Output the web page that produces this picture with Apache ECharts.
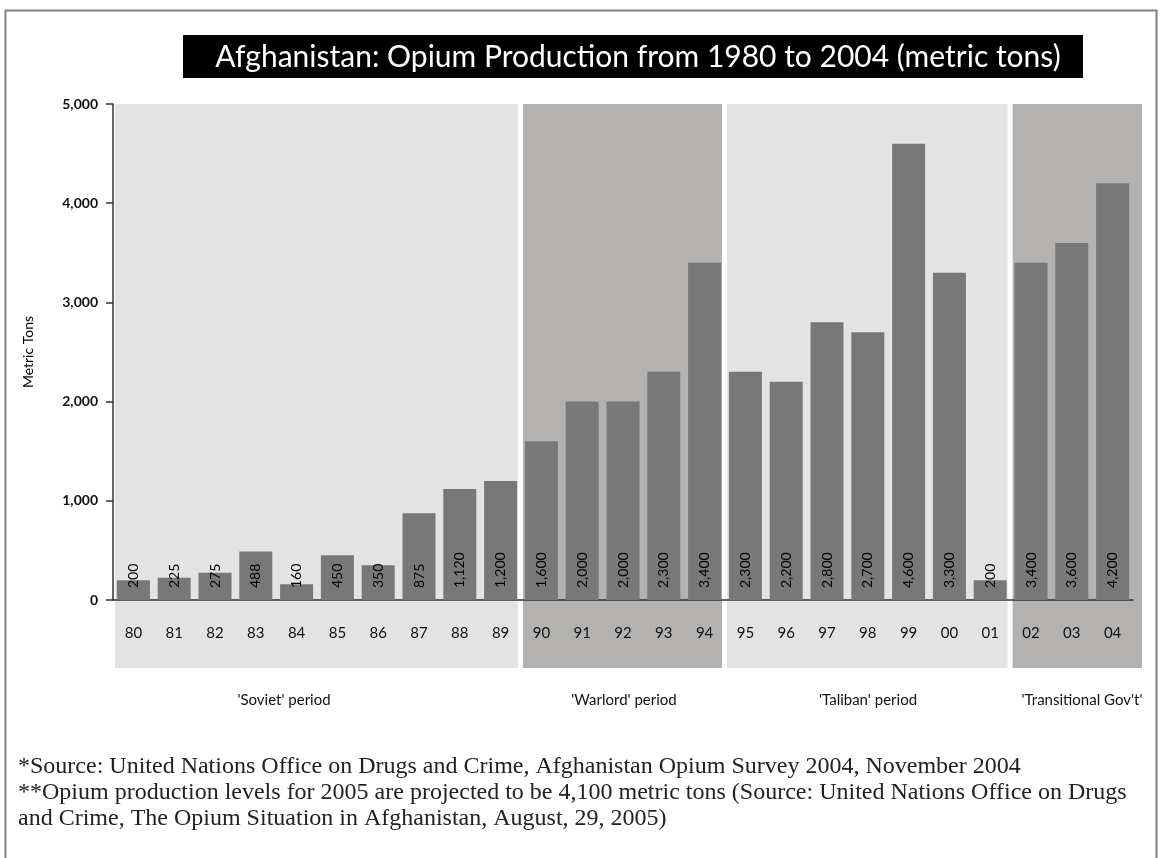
<!DOCTYPE html>
<html>
<head>
<meta charset="utf-8">
<script src="https://cdn.jsdelivr.net/npm/echarts@6/dist/echarts.min.js"></script>
<style>
  html, body { margin: 0; padding: 0; background: #fff; }
  #chart { width: 1161px; height: 858px; }
</style>
</head>
<body>
<div id="chart"></div>
<script>
// data
const years = ['80', '81', '82', '83', '84', '85', '86', '87', '88', '89', '90', '91', '92',
  '93', '94', '95', '96', '97', '98', '99', '00', '01', '02', '03', '04']
const production = [200, 225, 275, 488, 160, 450, 350, 875, 1120, 1200, 1600, 2000, 2000,
  2300, 3400, 2300, 2200, 2800, 2700, 4600, 3300, 200, 3400, 3600, 4200]
const periodNames = ["'Soviet' period", "'Warlord' period", "'Taliban' period", "'Transitional Gov't'"]
const periodStart = [0, 10, 15, 22]
const periodEnd = [9, 14, 21, 24]
const footnotes = [
  '*Source: United Nations Office on Drugs and Crime, Afghanistan Opium Survey 2004, November 2004',
  '**Opium production levels for 2005 are projected to be 4,100 metric tons (Source: United Nations Office on Drugs',
  'and Crime, The Opium Situation in Afghanistan, August, 29, 2005)'
]

const sans = 'Lato, "Open Sans", sans-serif'
const bandColors = ['#e3e3e3', '#b3b2b0']

const chart = echarts.init(document.getElementById('chart'))

// period label x positions (centres, px)
const periodLabelX = [284, 624, 868, 1082]

chart.setOption({
  animation: false,
  grid: { left: 113, right: 28, top: 104, bottom: 258 },
  xAxis: [
    {
      type: 'category',
      data: years,
      axisLine: { onZero: false, lineStyle: { color: '#333', width: 1.5 } },
      axisTick: { show: false },
      axisLabel: { color: '#111', fontSize: 15, fontFamily: sans, margin: 26 }
    },
    { type: 'value', min: -0.5, max: 24.5, show: false }
  ],
  yAxis: {
    type: 'value',
    min: 0,
    max: 5000,
    interval: 1000,
    name: 'Metric Tons',
    nameLocation: 'middle',
    nameGap: 78,
    nameTextStyle: { color: '#000', fontSize: 14, fontFamily: sans },
    axisLine: { show: true, onZero: false, lineStyle: { color: '#333', width: 1.5 } },
    axisTick: { show: true, length: 7, lineStyle: { color: '#333', width: 1.5 } },
    splitLine: { show: false },
    axisLabel: {
      color: '#111', fontSize: 14, fontWeight: 'bold', fontFamily: sans, margin: 15,
      formatter: v => v.toLocaleString('en-US')
    }
  },
  series: [
    {
      // period background bands
      type: 'custom',
      xAxisIndex: 1,
      silent: true,
      clip: false,
      z: -1,
      data: periodStart.map((s, i) => [s, periodEnd[i], i]),
      renderItem: (params, api) => {
        const i = api.value(2)
        const tl = api.coord([api.value(0) - 0.5, 5000])
        const br = api.coord([api.value(1) + 0.5, 0])
        const x0 = tl[0] + 2
        const x1 = i === periodStart.length - 1 ? br[0] + 9 : br[0] - 3
        return {
          type: 'rect',
          shape: { x: x0, y: tl[1], width: x1 - x0, height: br[1] - tl[1] + 68 },
          style: { fill: bandColors[i % 2] }
        }
      }
    },
    {
      type: 'bar',
      data: production,
      barWidth: 33,
      itemStyle: { color: '#787878' },
      label: {
        show: true,
        position: 'insideBottom',
        rotate: 90,
        align: 'left',
        verticalAlign: 'middle',
        distance: 12,
        color: '#000',
        fontSize: 14,
        fontFamily: sans,
        formatter: p => p.value.toLocaleString('en-US')
      }
    }
  ],
  graphic: [
    {
      type: 'rect',
      shape: { x: 5.5, y: 10.5, width: 1151, height: 900 },
      style: { fill: 'none', stroke: '#808080', lineWidth: 2 },
      silent: true
    },
    {
      type: 'rect',
      shape: { x: 183, y: 35, width: 900, height: 43 },
      style: { fill: '#000' }
    },
    {
      type: 'text',
      x: 638,
      y: 57,
      style: {
        text: 'Afghanistan: Opium Production from 1980 to 2004 (metric tons)',
        fill: '#fff', font: '30px ' + sans, textAlign: 'center', textVerticalAlign: 'middle'
      }
    },
    ...periodNames.map((name, i) => ({
      type: 'text',
      x: periodLabelX[i],
      y: 700,
      style: {
        text: name, fill: '#111', font: '15px ' + sans,
        textAlign: 'center', textVerticalAlign: 'middle'
      }
    })),
    {
      type: 'text',
      x: 18,
      y: 754,
      style: {
        text: footnotes.join('\n'),
        fill: '#222',
        font: '24px "Liberation Serif", "Times New Roman", serif',
        lineHeight: 26
      }
    }
  ]
})
</script>
</body>
</html>
